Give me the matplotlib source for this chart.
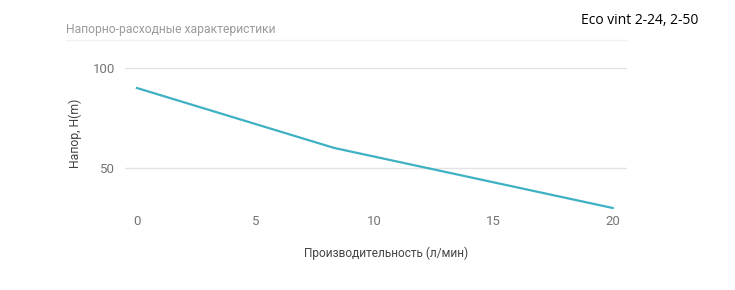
import matplotlib.pyplot as plt
from matplotlib.lines import Line2D

plt.rcParams['font.family'] = ['Roboto', 'DejaVu Sans']

flow = [0, 8.3, 20]
head = [90, 60, 30]
x_ticks = [0, 5, 10, 15, 20]
y_ticks = [50, 100]

W, H = 735, 290
fig = plt.figure(figsize=(W / 100, H / 100), dpi=100)
ax = fig.add_axes([125 / W, 1 - 212 / H, (627 - 125) / W, (212 - 40) / H])

ax.plot(flow, head, color='#3eb1c3', lw=1.6, solid_joinstyle='round')
ax.set_xlim(-0.5, 20.6)
ax.set_ylim(28, 114)
ax.set_xticks(x_ticks)
ax.set_yticks(y_ticks)
ax.grid(axis='y', color='#e3e3e3', lw=1)
ax.set_axisbelow(True)
for s in ax.spines.values():
    s.set_visible(False)
ax.tick_params(length=0, colors='#757575', labelsize=9.5)
ax.tick_params(axis='y', pad=7)
ax.tick_params(axis='x', pad=2)

fig.text(75 / W, 1 - 133 / H, 'Напор, H(m)', ha='center', va='center', rotation=90,
         color='#444444', fontsize=8.8)
fig.text(386 / W, 1 - 253 / H, 'Производительность (л/мин)', ha='center', va='center',
         color='#444444', fontsize=8.6)

fig.text(66 / W, 1 - 30 / H, 'Напорно-расходные характеристики', ha='left', va='center',
         color='#9a9a9a', fontsize=8.7)
fig.add_artist(Line2D([66 / W, 627 / W], [1 - 40 / H, 1 - 40 / H], color='#f2f2f2', lw=1))

fig.text(640 / W, 1 - 20 / H, 'Eco vint 2-24, 2-50', ha='center', va='center',
         color='black', fontsize=10, family=['Open Sans', 'DejaVu Sans'])

fig.savefig('out.png', dpi=100, facecolor='white')
